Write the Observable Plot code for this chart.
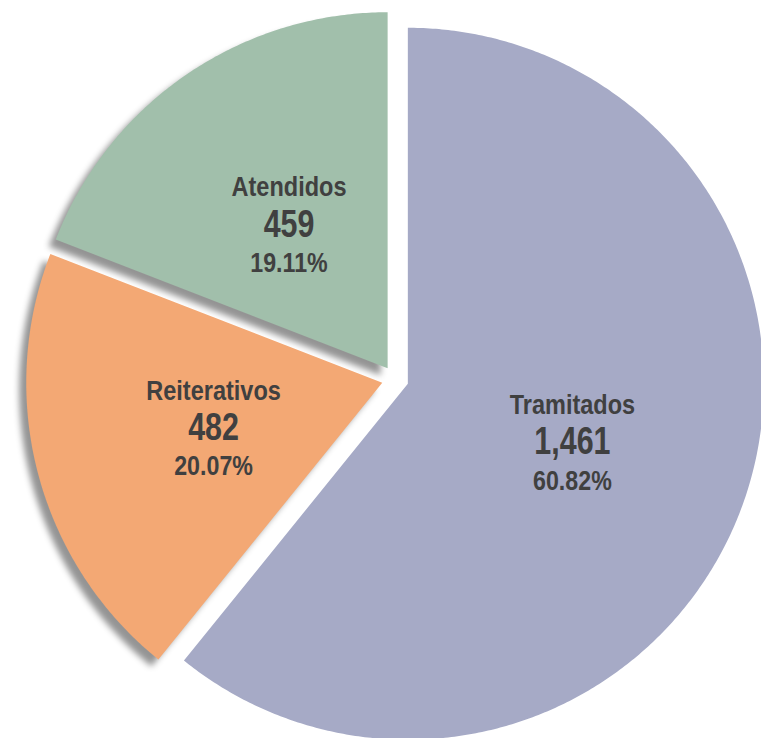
<!DOCTYPE html>
<html>
<head>
<meta charset="utf-8">
<script src="https://cdn.jsdelivr.net/npm/d3@7"></script>
<script src="https://cdn.jsdelivr.net/npm/@observablehq/plot@0.6"></script>
<style>
  html, body { margin: 0; padding: 0; background: #ffffff; }
  #chart { width: 761px; height: 738px; overflow: hidden; }
</style>
</head>
<body>
<div id="chart"></div>
<script>
// ---- Data ----
const categories = ["Tramitados", "Reiterativos", "Atendidos"];
const values = [1461, 482, 459];
const percentLabels = ["60.82%", "20.07%", "19.11%"];
const colors = ["#a6aac6", "#f3a874", "#a1bfab"];

// ---- Layout ----
const W = 761, H = 738;
const cx = 394.7, cy = 378.8, R = 356;   // pixel center / radius
const explode = 13.4 / R;                // explode distance (relative)
const labelR = 0.528;

const pie = d3.pie().sort(null).value(d => d.value)(
  categories.map((c, i) => ({category: c, value: values[i], pct: percentLabels[i]}))
);

// polygon vertices in unit space (y up)
const poly = [];
const labels = [];
pie.forEach(s => {
  const mid = (s.startAngle + s.endAngle) / 2;
  const ox = explode * Math.sin(mid), oy = explode * Math.cos(mid);
  poly.push({category: s.data.category, x: ox, y: oy});
  const n = Math.max(2, Math.ceil((s.endAngle - s.startAngle) / (Math.PI / 360)));
  for (let k = 0; k <= n; k++) {
    const a = s.startAngle + (s.endAngle - s.startAngle) * k / n;
    poly.push({category: s.data.category, x: ox + Math.sin(a), y: oy + Math.cos(a)});
  }
  labels.push({
    category: s.data.category,
    value: d3.format(",")(s.data.value),
    pct: s.data.pct,
    x: labelR * Math.sin(mid),
    y: labelR * Math.cos(mid)
  });
});

const xDomain = [-cx / R, (W - cx) / R];
const yDomain = [-(H - cy) / R, cy / R];

const font = "'Liberation Sans', Arial, sans-serif";
const textCol = "#404040";

const shadowed = poly.filter(d => d.category !== "Tramitados");
const plain = poly.filter(d => d.category === "Tramitados");

const chart = Plot.plot({
  width: W,
  height: H,
  margin: 0,
  x: {domain: xDomain, axis: null},
  y: {domain: yDomain, axis: null},
  color: {domain: categories, range: colors},
  style: {background: "#ffffff", fontFamily: font},
  marks: [
    Plot.line(shadowed, {x: "x", y: "y", z: "category", fill: "category", stroke: null, curve: "linear-closed"}),
    Plot.line(plain, {x: "x", y: "y", z: "category", fill: "category", stroke: null, curve: "linear-closed"}),
    Plot.text(labels, {x: "x", y: "y", text: "category", dy: -37, fontSize: 28, fontWeight: "bold", fill: textCol, fontFamily: font, textAnchor: "middle", lineAnchor: "middle"}),
    Plot.text(labels, {x: "x", y: "y", text: "value", dy: 0, fontSize: 39, fontWeight: "bold", fill: textCol, fontFamily: font, textAnchor: "middle", lineAnchor: "middle"}),
    Plot.text(labels, {x: "x", y: "y", text: "pct", dy: 39, fontSize: 27, fontWeight: "bold", fill: textCol, fontFamily: font, textAnchor: "middle", lineAnchor: "middle"})
  ]
});

// drop shadow on the two left slices
const lines = chart.querySelectorAll('g[aria-label="line"]');
if (lines.length) {
  lines[0].style.filter = "drop-shadow(-7px 7px 3px rgba(0,0,0,0.42))";
}
// condensed look for the labels
const squeeze = [0.84, 0.78, 0.86];
chart.querySelectorAll('g[aria-label="text"]').forEach((g, gi) => {
  const s = squeeze[gi] ?? 0.85;
  g.querySelectorAll("text").forEach(t => {
    const tr = t.getAttribute("transform");
    if (tr) {
      t.setAttribute("transform", tr + ` scale(${s},1)`);
    } else {
      const x = +t.getAttribute("x") || 0, y = +t.getAttribute("y") || 0;
      t.removeAttribute("x"); t.removeAttribute("y");
      t.setAttribute("transform", `translate(${x},${y}) scale(${s},1)`);
    }
  });
});
document.getElementById("chart").appendChild(chart);
</script>
</body>
</html>
